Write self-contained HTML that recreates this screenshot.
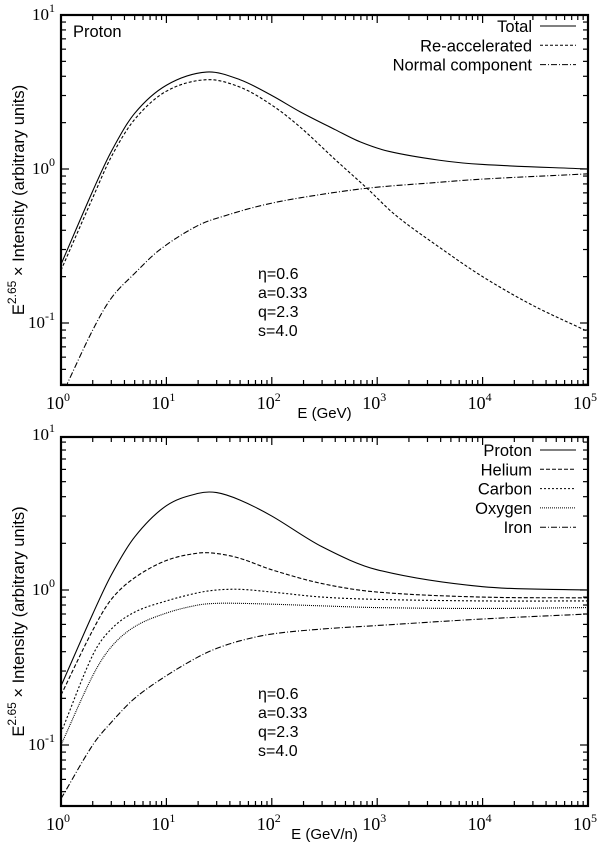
<!DOCTYPE html>
<html><head><meta charset="utf-8"><style>
body{margin:0;background:#fff}
svg{display:block;font-family:"Liberation Sans",sans-serif}
.ser{font-family:"Liberation Serif",serif}
</style></head><body>
<svg id="c" width="600" height="846" viewBox="0 0 600 846"></svg>
<script>
// ---- data ----
const topTotalE=[1,2,3,5,10,24,50,100,186,400,690,1300,3900,1e4,1e5];
const topTotalV=[0.24,0.72,1.3,2.3,3.5,4.26,3.8,3.0,2.35,1.8,1.5,1.3,1.14,1.07,1.0];
const topReaccE=[1,2,3,5,10,24,50,100,186,400,800,1500,3900,1e4,3e4,1e5];
const topReaccV=[0.22,0.65,1.2,2.1,3.2,3.8,3.4,2.6,1.87,1.15,0.75,0.5,0.31,0.2,0.13,0.088];
const topNormE=[1.1,2,3,5,8.7,20,37,80,186,800,3900,1e4,1e5];
const topNormV=[0.038,0.09,0.145,0.21,0.3,0.43,0.5,0.58,0.65,0.75,0.82,0.86,0.93];
const botE=[1,2,3,5,10,20,30,50,100,300,1000,1e4,1e5];
const protonV=[0.24,0.7,1.25,2.2,3.5,4.2,4.25,3.8,3.0,1.9,1.35,1.05,1.0];
const heliumV=[0.21,0.55,0.87,1.2,1.55,1.73,1.72,1.6,1.35,1.1,0.97,0.9,0.89];
const carbonV=[0.12,0.38,0.56,0.72,0.85,0.96,1.0,1.01,0.97,0.9,0.87,0.85,0.85];
const oxygenV=[0.1,0.28,0.43,0.58,0.71,0.8,0.82,0.82,0.81,0.79,0.77,0.76,0.77];
const ironV=[0.045,0.1,0.14,0.2,0.28,0.37,0.42,0.47,0.52,0.56,0.59,0.65,0.70];
const xTickLabels=["0","1","2","3","4","5"];
const yTickLabels=["1","0","-1"];
const params=["η=0.6","a=0.33","q=2.3","s=4.0"];

const NS="http://www.w3.org/2000/svg";
const svg=document.getElementById('c');
function mk(t,a,p){const e=document.createElementNS(NS,t);for(const k in a)e.setAttribute(k,a[k]);(p||svg).appendChild(e);return e;}

function panel(o){
  const L=61,R=588,T=o.top,B=o.bottom,y0=o.y0,dec=o.dec;
  const g=mk('g',{});
  
  
  const xs=e=>L+Math.log10(e)*(R-L)/5;
  const ys=v=>y0-Math.log10(v)*dec;
  const clip='cl'+o.name;
  const cp=mk('clipPath',{id:clip},g);mk('rect',{x:L,y:T,width:R-L,height:B-T},cp);
  for(let d=0;d<5;d++)for(let m=1;m<10;m++){const x=xs(Math.pow(10,d)*m);const len=m==1?8:5;
    if(m==1&&d==0)continue;
    mk('line',{x1:x,y1:B,x2:x,y2:B-len,stroke:'#000','stroke-width':1.2},g);
    mk('line',{x1:x,y1:T,x2:x,y2:T+len,stroke:'#000','stroke-width':1.2},g);}
  for(let d=-2;d<1;d++)for(let m=1;m<10;m++){const y=ys(Math.pow(10,d)*m);if(y<T||y>B)continue;const len=m==1?8:5;
    mk('line',{x1:L,y1:y,x2:L+len,y2:y,stroke:'#000','stroke-width':1.2},g);
    mk('line',{x1:R,y1:y,x2:R-len,y2:y,stroke:'#000','stroke-width':1.2},g);}
  xTickLabels.forEach((s,i)=>{const t=mk('text',{x:xs(Math.pow(10,i))-3,y:B+24,'text-anchor':'middle','font-size':18,class:'ser'},g);
    
    t.innerHTML='10<tspan dy="-8" font-size="12">'+s+'</tspan>';});
  yTickLabels.forEach(s=>{const y=ys(Math.pow(10,+s));const t=mk('text',{x:L-6,y:y+5,'text-anchor':'end','font-size':17,class:'ser'},g);
    
    t.innerHTML='10<tspan dy="-8" font-size="12">'+s+'</tspan>';});
  const cg=mk('g',{'clip-path':'url(#'+clip+')'},g);
  o.series.forEach(s=>{
    const P=s.E.map((e,i)=>[xs(e),ys(s.V[i])]);
    const n=P.length,m=[];
    for(let i=0;i<n;i++){const a=P[Math.max(0,i-1)],b=P[Math.min(n-1,i+1)];m.push((b[1]-a[1])/(b[0]-a[0]));}
    let d='M'+P[0][0]+','+P[0][1];
    for(let i=0;i<n-1;i++){const p1=P[i],p2=P[i+1],h=(p2[0]-p1[0])/3;
      d+=' C'+(p1[0]+h)+','+(p1[1]+m[i]*h)+' '+(p2[0]-h)+','+(p2[1]-m[i+1]*h)+' '+p2[0]+','+p2[1];}
    const pa=mk('path',{d:d,fill:'none',stroke:'#000','stroke-width':1.1,'stroke-dasharray':s.dash},cg);
    
  });
  mk('rect',{x:L,y:T,width:R-L,height:B-T,fill:'none',stroke:'#000','stroke-width':2.2},g);
  o.series.forEach((s,i)=>{const y=o.legY+i*19.3;
    const t=mk('text',{x:532,y:y+6,'text-anchor':'end','font-size':16.5},g);t.textContent=s.label;
    
    mk('line',{x1:540,y1:y,x2:576,y2:y,stroke:'#000','stroke-width':1,'stroke-dasharray':s.dash},g);});
  params.forEach((p,i)=>{const t=mk('text',{x:258,y:o.parY+i*19,'font-size':16},g);t.textContent=p;
    });
  const xt=mk('text',{x:(L+R)/2,y:B+33,'text-anchor':'middle','font-size':15},g);xt.textContent=o.xtitle;
  
  const cy=(T+B)/2;
  const yt=mk('text',{x:0,y:0,'text-anchor':'middle','font-size':16.5,transform:'translate(24,'+cy+') rotate(-90)'},g);
  yt.innerHTML='E<tspan dy="-8" font-size="12">2.65</tspan><tspan dy="8"> × Intensity (arbitrary units)</tspan>';
  
  if(o.tag){const t=mk('text',{x:73,y:37,'font-size':16.5},g);t.textContent=o.tag;
    }
}
panel({name:'proton-panel',top:15,bottom:385,y0:169,dec:154,legY:26,parY:279,xtitle:'E (GeV)',tag:'Proton',
  series:[{id:'total',label:'Total',E:topTotalE,V:topTotalV,dash:'none'},
          {id:'reaccelerated',label:'Re-accelerated',E:topReaccE,V:topReaccV,dash:'3,2'},
          {id:'normal',label:'Normal component',E:topNormE,V:topNormV,dash:'6,2,1,2'}]});
panel({name:'species-panel',top:437,bottom:806,y0:590,dec:155,legY:450,parY:699,xtitle:'E (GeV/n)',
  series:[{id:'proton',label:'Proton',E:botE,V:protonV,dash:'none'},
          {id:'helium',label:'Helium',E:botE,V:heliumV,dash:'4,2'},
          {id:'carbon',label:'Carbon',E:botE,V:carbonV,dash:'2,2'},
          {id:'oxygen',label:'Oxygen',E:botE,V:oxygenV,dash:'1,1'},
          {id:'iron',label:'Iron',E:botE,V:ironV,dash:'6,2,1,2'}]});
</script>
</body></html>
